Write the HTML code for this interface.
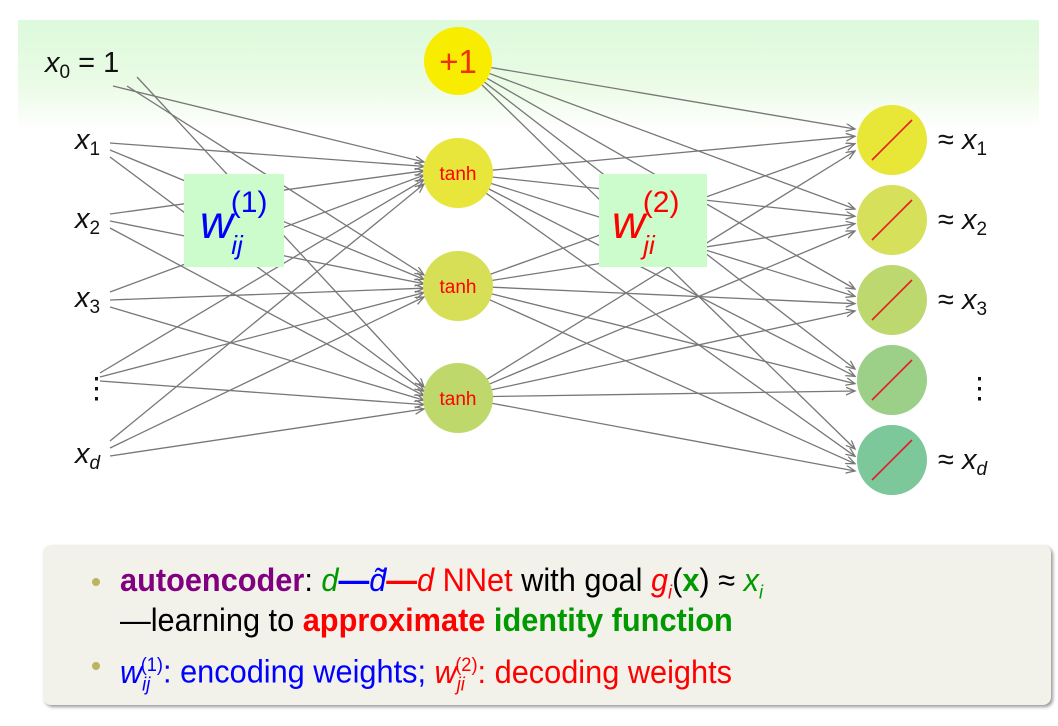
<!DOCTYPE html>
<html><head><meta charset="utf-8"><style>
body{margin:0;width:1058px;height:726px;background:#fff;position:relative;overflow:hidden;font-family:"Liberation Sans",sans-serif}
#hdr{position:absolute;left:18px;top:20px;width:1021px;height:110px;background:linear-gradient(#dcfadc,#ebfbe6 60%,#fff)}
svg{position:absolute;left:0;top:0}
.box{position:absolute;left:43px;top:545px;width:1008px;height:160px;background:#f2f1ea;border-radius:8px;box-shadow:2px 2px 3px #999}
.ln{position:absolute;left:120px;font-size:32px;white-space:nowrap;transform:scaleX(.96);transform-origin:left;line-height:36px}
.bul{position:absolute;left:92px;width:8px;height:8px;border-radius:50%;background:#bcb460}
i{font-style:italic}
sub,sup{font-size:19px}
</style></head><body>
<div id="hdr"></div>
<svg id="s" width="1058" height="726" xmlns="http://www.w3.org/2000/svg">
<defs><marker id="a" markerWidth="8" markerHeight="8" refX="7" refY="3" orient="auto"><path d="M0,0 L7,3 L0,6" fill="none" stroke="#777" stroke-width="1"/></marker></defs>
<g id="L" stroke="#777" stroke-width="1.3" fill="none"></g>
<rect x="184" y="174" width="100" height="93" fill="#ccfccc"/>
<rect x="599" y="174" width="108" height="93" fill="#ccfccc"/>
<circle cx="458" cy="61" r="34" fill="#f8ec00"/>
<circle cx="458" cy="173" r="35" fill="#e8e63a"/>
<circle cx="458" cy="286" r="35" fill="#d6df56"/>
<circle cx="458" cy="398" r="35" fill="#bed86c"/>
<g font-family="Liberation Sans" fill="#f00" text-anchor="middle">
<text x="458" y="73" font-size="33" fill="#f03000">+1</text>
<text x="458" y="180" font-size="19">tanh</text>
<text x="458" y="293" font-size="19">tanh</text>
<text x="458" y="405" font-size="19">tanh</text>
</g>
<g id="O"></g>
<g font-family="Liberation Sans" font-size="29" fill="#111">
<text x="45" y="72"><tspan font-style="italic">x</tspan><tspan font-size="19" dy="6">0</tspan><tspan dy="-6"> = 1</tspan></text>
<text x="75" y="149" font-style="italic">x<tspan font-size="19" dy="6" font-style="normal">1</tspan></text>
<text x="75" y="228" font-style="italic">x<tspan font-size="19" dy="6" font-style="normal">2</tspan></text>
<text x="75" y="307" font-style="italic">x<tspan font-size="19" dy="6" font-style="normal">3</tspan></text>
<text x="82" y="398">⋮</text>
<text x="75" y="463" font-style="italic">x<tspan font-size="19" dy="6">d</tspan></text>
<text x="938" y="149">≈ <tspan font-style="italic">x</tspan><tspan font-size="19" dy="6">1</tspan></text>
<text x="938" y="229">≈ <tspan font-style="italic">x</tspan><tspan font-size="19" dy="6">2</tspan></text>
<text x="938" y="309">≈ <tspan font-style="italic">x</tspan><tspan font-size="19" dy="6">3</tspan></text>
<text x="965" y="398">⋮</text>
<text x="938" y="469">≈ <tspan font-style="italic">x</tspan><tspan font-size="19" dy="6" font-style="italic">d</tspan></text>
</g>
<text x="200" y="238" font-family="Liberation Sans" font-size="46" fill="#00f" font-style="italic">w<tspan font-size="26" dy="16" dx="-2">ij</tspan><tspan font-size="30" dy="-42" dx="-12" font-style="normal">(1)</tspan></text>
<text x="612" y="238" font-family="Liberation Sans" font-size="46" fill="#f00" font-style="italic">w<tspan font-size="26" dy="16" dx="-2">ji</tspan><tspan font-size="30" dy="-42" dx="-12" font-style="normal">(2)</tspan></text>
</svg>
<div class="box">
</div>
<div class="bul" style="top:578px"></div>
<div class="ln" style="top:562px"><b style="color:#800080">autoencoder</b>: <i style="color:#090">d</i><b style="color:#00f">—</b><i style="color:#00f">d̃</i><b style="color:#f00">—</b><i style="color:#f00">d</i> <span style="color:#f00">NNet</span> with goal <i style="color:#f00">g<sub>i</sub></i>(<b style="color:#090">x</b>) ≈ <i style="color:#090">x<sub>i</sub></i></div>
<div class="ln" style="top:602px">—learning to <b style="color:#f00">approximate</b> <b style="color:#090">identity function</b></div>
<div class="bul" style="top:662px"></div>
<div class="ln" style="top:648px;color:#00f"><i>w<sub>ij</sub></i><sup style="margin-left:-10px">(1)</sup>: encoding weights; <span style="color:#f00"><i>w<sub>ji</sub></i><sup style="margin-left:-10px">(2)</sup>: decoding weights</span></div>
<script>
var L=document.getElementById('L'),O=document.getElementById('O'),ns='http://www.w3.org/2000/svg';
function ln(x1,y1,x2,y2){var l=document.createElementNS(ns,'line');l.setAttribute('x1',x1);l.setAttribute('y1',y1);l.setAttribute('x2',x2);l.setAttribute('y2',y2);l.setAttribute('marker-end','url(#a)');L.appendChild(l);}
var H=[173,286,398];
var src=[[[113,86],[127,86],[137,77]],[[110,143],[110,150],[110,157]],[[110,214],[110,221],[110,228]],[[110,292],[110,300],[110,307]],[[100,373],[100,377],[100,381]],[[110,441],[110,448],[110,456]]];
src.forEach(function(s,i){s.forEach(function(p,j){var off=(i/5-0.5)*22;ln(p[0],p[1],424,H[j]+off);});});
var OY=[140,220,300,380,460];
var hs=[61,173,286,398];
hs.forEach(function(hy,h){OY.forEach(function(oy,k){var ang=Math.atan2(oy-hy,400);var sx=458+34*Math.cos(ang),sy=hy+34*Math.sin(ang);var off=(h/3-0.5)*22;ln(sx,sy,855,oy+off);});});
var cols=['#e8e636','#d6e05a','#bed870','#9ccf88','#7cc89a'];
OY.forEach(function(y,k){var c=document.createElementNS(ns,'circle');c.setAttribute('cx',892);c.setAttribute('cy',y);c.setAttribute('r',35);c.setAttribute('fill',cols[k]);O.appendChild(c);var l=document.createElementNS(ns,'line');l.setAttribute('x1',872);l.setAttribute('y1',y+20);l.setAttribute('x2',912);l.setAttribute('y2',y-20);l.setAttribute('stroke','#e02020');l.setAttribute('stroke-width','1.6');O.appendChild(l);});
</script>
</body></html>
